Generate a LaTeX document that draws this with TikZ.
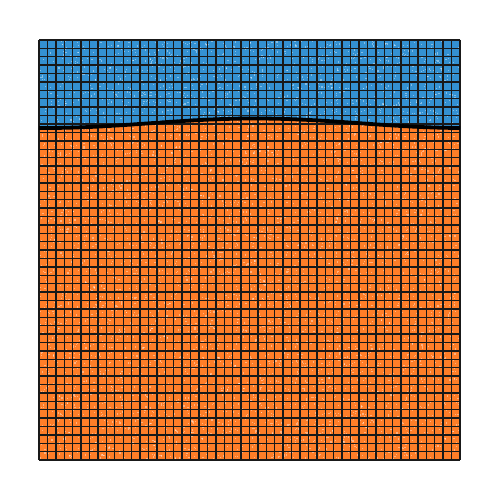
\documentclass[tikz,border=0pt]{standalone}
\definecolor{topblue}{RGB}{52,145,210}
\definecolor{botorange}{RGB}{255,126,40}
\tikzset{gridline/.style={line width=1.4pt,draw=black!90},
  boundary/.style={line width=3.8pt,draw=black},
  speck/.style={fill=white,opacity=0.4}}
\begin{document}
\begin{tikzpicture}[x=1pt,y=-1pt]
\useasboundingbox (0,0) rectangle (500,500);
\fill[botorange] (39,40) rectangle (460,460);
\fill[topblue] (39,40) -- plot[domain=39:460,samples=100,smooth] (\x,{128-4.75*(1+cos(0.857143*(\x-255)))}) -- (460,40) -- cycle;
\pgfmathsetseed{7}
\foreach \i in {1,...,6000}{
  \pgfmathsetmacro\px{39+420*rnd}
  \pgfmathsetmacro\py{40+420*rnd}
  \fill[speck] (\px,\py) rectangle +(1.2,1.2);
}
\foreach \i in {0,...,50}{
  \draw[gridline] ({39+\i*8.42},40) -- ({39+\i*8.42},460);
  \draw[gridline] (39,{40+\i*8.4}) -- (460,{40+\i*8.4});
}
\draw[boundary] plot[domain=39:460,samples=100,smooth] (\x,{128-4.75*(1+cos(0.857143*(\x-255)))});
\end{tikzpicture}
\end{document}
